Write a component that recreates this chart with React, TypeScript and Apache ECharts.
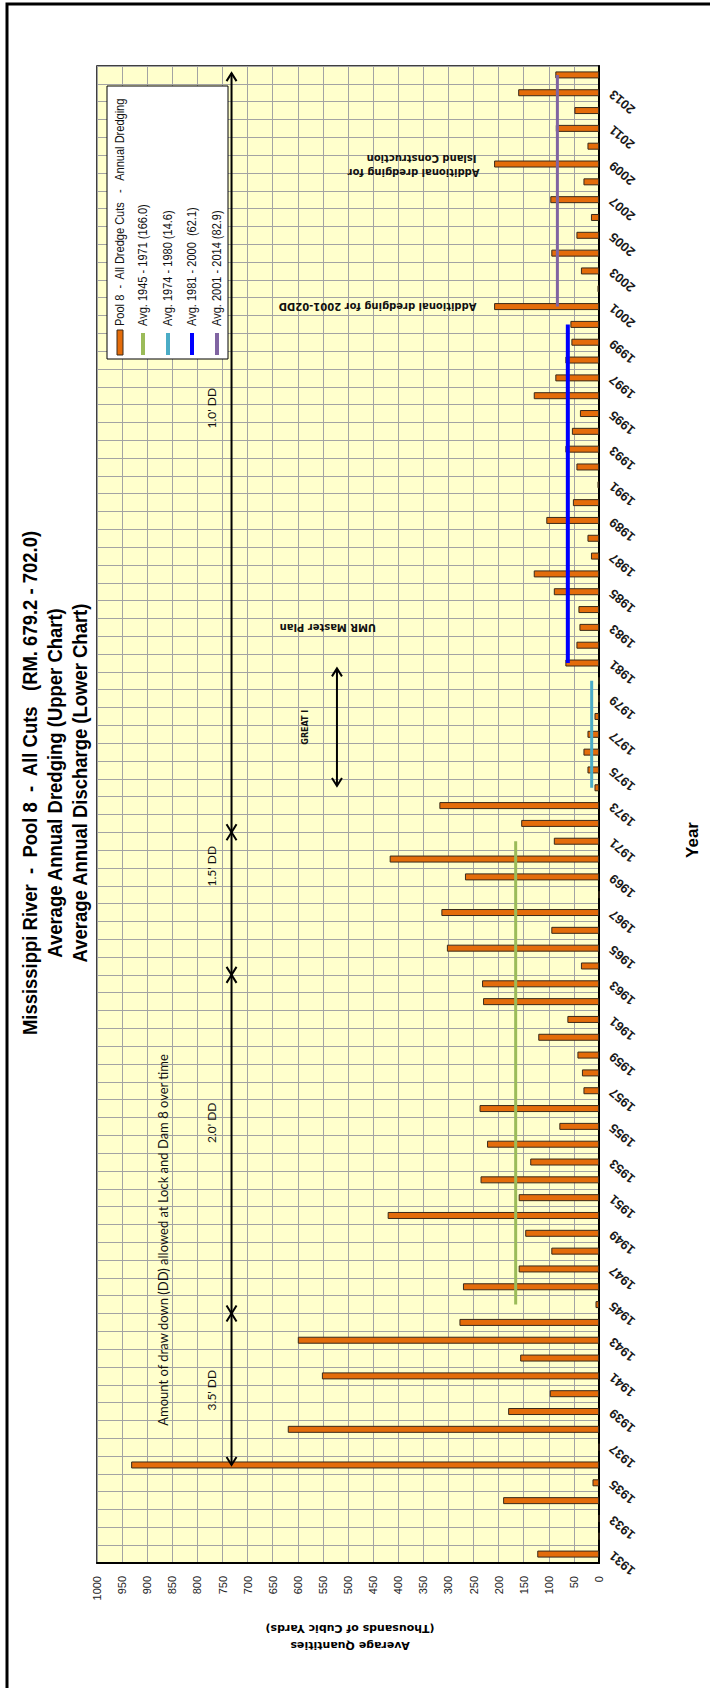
import React, { useEffect, useRef } from 'react';
import * as echarts from 'echarts';

// ---------- DATA ----------
const YEARS = [
  '1931', '1932', '1933', '1934', '1935', '1936', '1937', '1938', '1939', '1940',
  '1941', '1942', '1943', '1944', '1945', '1946', '1947', '1948', '1949', '1950',
  '1951', '1952', '1953', '1954', '1955', '1956', '1957', '1958', '1959', '1960',
  '1961', '1962', '1963', '1964', '1965', '1966', '1967', '1968', '1969', '1970',
  '1971', '1972', '1973', '1974', '1975', '1976', '1977', '1978', '1979', '1980',
  '1981', '1982', '1983', '1984', '1985', '1986', '1987', '1988', '1989', '1990',
  '1991', '1992', '1993', '1994', '1995', '1996', '1997', '1998', '1999', '2000',
  '2001', '2002', '2003', '2004', '2005', '2006', '2007', '2008', '2009', '2010',
  '2011', '2012', '2013', '2014',
];

// Annual dredging, thousands of cubic yards
const DREDGING = [
  123, 0, 0, 191, 13, 932, 0, 620, 181, 98,
  552, 157, 600, 278, 7, 271, 160, 95, 147, 421,
  160, 236, 137, 223, 79, 238, 31, 34, 43, 121,
  63, 231, 233, 36, 303, 95, 314, 0, 267, 417,
  90, 155, 318, 9, 23, 31, 23, 9, 0, 0,
  67, 45, 39, 41, 90, 130, 16, 23, 105, 52,
  3, 45, 67, 54, 38, 130, 87, 67, 55, 57,
  209, 3, 36, 95, 45, 16, 97, 31, 209, 23,
  86, 49, 161, 87,
];

const VALUE_MIN = 0;
const VALUE_MAX = 1000;
const VALUE_STEP = 50;

const AVG_FROM = [1945, 1974, 1981, 2001];
const AVG_TO = [1971, 1980, 2000, 2014];
const AVG_VALUE = [166.0, 14.6, 62.1, 82.9];
const AVG_LABELS = [
  'Avg. 1945 - 1971 (166.0)',
  'Avg. 1974 - 1980 (14.6)',
  'Avg. 1981 - 2000  (62.1)',
  'Avg. 2001 - 2014 (82.9)',
];
const AVG_COLORS = ['#9BBB59', '#4BACC6', '#0000FF', '#8064A2'];

const BAR_LABEL = 'Pool 8  -  All Dredge Cuts   -   Annual Dredging';

const TITLE_LINES = [
  'Mississippi River  -  Pool 8  -  All Cuts   (RM. 679.2 - 702.0)',
  'Average Annual Dredging (Upper Chart)',
  'Average Annual Discharge (Lower Chart)',
];

// draw-down periods (year boundaries) and their labels
const DD_BOUNDS = [1936, 1944.5, 1963.5, 1971.5, 2014.1];
const DD_LABELS = ["3.5' DD", "2.0' DD", "1.5' DD", "1.0' DD"];
const DD_LABEL_YEARS = [1940.2, 1955.2, 1969.6, 1995.3];

const ARIAL = '"Liberation Sans", Arial, sans-serif';
const VERD = '"DejaVu Sans", Verdana, sans-serif';

export default function App() {
  const ref = useRef<HTMLDivElement>(null);

  useEffect(() => {
    const el = ref.current!;
    const chart = echarts.init(el, null, { renderer: 'svg' });

    const avgSeries = AVG_VALUE.map((v, i) => ({
      type: 'line',
      name: AVG_LABELS[i],
      xAxisIndex: 0,
      yAxisIndex: 0,
      data: YEARS.filter((y) => +y >= AVG_FROM[i] && +y <= AVG_TO[i]).map((y) => [v, y]),
      symbol: 'none',
      silent: true,
      z: 4,
      lineStyle: { color: AVG_COLORS[i], width: i === 2 ? 4 : 3 },
    }));

    // static pixel graphics: frame, title, legend
    const staticG: any[] = [];
    staticG.push({
      type: 'rect',
      shape: { x: 7, y: 4, width: 760, height: 1760 },
      style: { fill: 'none', stroke: '#000', lineWidth: 3 },
      silent: true,
    });
    const titleX = [30, 55, 80];
    TITLE_LINES.forEach((t, i) => {
      staticG.push({
        type: 'text',
        x: titleX[i],
        y: 783,
        rotation: Math.PI / 2,
        scaleX: 0.88,
        style: {
          text: t,
          fontSize: 21,
          fontWeight: 'bold',
          fontFamily: ARIAL,
          fill: '#000',
          align: 'center',
          verticalAlign: 'middle',
        },
      });
    });
    // legend box
    staticG.push({
      type: 'rect',
      shape: { x: 107, y: 86, width: 121, height: 273 },
      style: { fill: '#fff', stroke: '#000', lineWidth: 1 },
      z: 50,
    });
    const legX = [120, 143, 168, 192, 217];
    staticG.push({
      type: 'rect',
      shape: { x: legX[0] - 3, y: 330, width: 6, height: 25 },
      style: { fill: '#E46C0A', stroke: '#3a2a1a', lineWidth: 1 },
      z: 51,
    });
    AVG_COLORS.forEach((c, i) => {
      staticG.push({
        type: 'line',
        shape: { x1: legX[i + 1], y1: 333, x2: legX[i + 1], y2: 355 },
        style: { stroke: c, lineWidth: 4 },
        z: 51,
      });
    });
    [BAR_LABEL, ...AVG_LABELS].forEach((t, i) => {
      staticG.push({
        type: 'text',
        x: legX[i],
        y: 326,
        rotation: Math.PI / 2,
        scaleX: 0.92,
        z: 51,
        style: {
          text: t,
          fontSize: 12,
          fontFamily: ARIAL,
          fill: '#111',
          align: 'left',
          verticalAlign: 'middle',
        },
      });
    });
    // "Year" axis title
    staticG.push({
      type: 'text',
      x: 692,
      y: 840,
      rotation: Math.PI / 2,
      style: {
        text: 'Year',
        fontSize: 17,
        fontWeight: 'bold',
        fontFamily: ARIAL,
        fill: '#000',
        align: 'center',
        verticalAlign: 'middle',
      },
    });
    // value axis title (upside down)
    staticG.push({
      type: 'text',
      x: 350,
      y: 1645,
      rotation: Math.PI,
      style: {
        text: 'Average Quantities',
        fontSize: 11,
        fontWeight: 'bold',
        fontFamily: VERD,
        fill: '#000',
        align: 'center',
        verticalAlign: 'middle',
      },
    });
    staticG.push({
      type: 'text',
      x: 350,
      y: 1628,
      rotation: Math.PI,
      style: {
        text: '(Thousands of Cubic Yards)',
        fontSize: 11,
        fontWeight: 'bold',
        fontFamily: VERD,
        fill: '#000',
        align: 'center',
        verticalAlign: 'middle',
      },
    });

    chart.setOption({
      animation: false,
      backgroundColor: '#fff',
      grid: {
        left: 97,
        right: 111,
        top: 66,
        bottom: 125,
        show: true,
        backgroundColor: '#FFFFCC',
        borderColor: '#000',
        borderWidth: 1.5,
      },
      xAxis: {
        type: 'value',
        inverse: true,
        min: VALUE_MIN,
        max: VALUE_MAX,
        interval: VALUE_STEP,
        position: 'bottom',
        axisLine: { show: true, onZero: false, lineStyle: { color: '#000', width: 2 } },
        axisTick: { show: false },
        axisLabel: {
          rotate: 90,
          fontSize: 11,
          fontFamily: ARIAL,
          color: '#222',
          margin: 13,
          formatter: (v: number) => String(v),
        },
        splitLine: { show: true, lineStyle: { color: '#a3a3a3', width: 1 } },
      },
      yAxis: [
        {
          type: 'category',
          data: YEARS,
          position: 'right',
          axisLine: { show: true, onZero: false, lineStyle: { color: '#000', width: 2 } },
          axisTick: { show: false },
          axisLabel: {
            interval: 1,
            rotate: 140,
            margin: 12,
            fontSize: 13,
            fontWeight: 'bold',
            fontFamily: ARIAL,
            color: '#1a1a1a',
          },
          splitLine: { show: true, interval: 0, lineStyle: { color: '#a3a3a3', width: 1 } },
        },
        { type: 'value', min: 1930.5, max: 2014.5, show: false, position: 'left' },
      ],
      series: [
        {
          type: 'bar',
          name: BAR_LABEL,
          xAxisIndex: 0,
          yAxisIndex: 0,
          data: DREDGING,
          barWidth: 7,
          silent: true,
          itemStyle: { color: '#E46C0A', borderColor: '#3a2a1a', borderWidth: 1 },
        },
        ...avgSeries,
      ],
      graphic: staticG,
    });

    // annotations positioned through the axes
    const P = (v: number, yr: number) =>
      chart.convertToPixel({ xAxisIndex: 0, yAxisIndex: 1 } as any, [v, yr]) as number[];
    const g: any[] = [];
    const arrowHead = (x: number, y: number, dir: number) => ({
      type: 'polyline',
      shape: { points: [[x - 5, y + dir * 8], [x, y], [x + 5, y + dir * 8]] },
      style: { stroke: '#000', lineWidth: 2, fill: 'none' },
      z: 20,
    });
    const ddX = 732;
    for (let i = 0; i < DD_LABELS.length; i++) {
      const a = P(ddX, DD_BOUNDS[i]);
      const b = P(ddX, DD_BOUNDS[i + 1]);
      g.push({
        type: 'line',
        shape: { x1: a[0], y1: a[1], x2: b[0], y2: b[1] },
        style: { stroke: '#000', lineWidth: 2 },
        z: 20,
      });
      g.push(arrowHead(a[0], a[1], -1));
      g.push(arrowHead(b[0], b[1], 1));
      const l = P(772, DD_LABEL_YEARS[i]);
      g.push({
        type: 'text',
        x: l[0],
        y: l[1],
        rotation: Math.PI / 2,
        z: 20,
        style: {
          text: DD_LABELS[i],
          fontSize: 12,
          fontFamily: 'Lato, sans-serif',
          fill: '#111',
          align: 'center',
          verticalAlign: 'middle',
        },
      });
    }
    const am = P(868, 1938.2);
    g.push({
      type: 'text',
      x: am[0],
      y: am[1],
      rotation: Math.PI / 2,
      z: 20,
      style: {
        text: 'Amount of draw down (DD) allowed at Lock and Dam 8 over time',
        fontSize: 13,
        fontFamily: 'Lato, sans-serif',
        fill: '#111',
        align: 'left',
        verticalAlign: 'middle',
      },
    });
    // GREAT I
    const ga = P(522, 1974.1);
    const gb = P(522, 1980.7);
    g.push({
      type: 'line',
      shape: { x1: ga[0], y1: ga[1], x2: gb[0], y2: gb[1] },
      style: { stroke: '#000', lineWidth: 2 },
      z: 20,
    });
    g.push(arrowHead(ga[0], ga[1], -1));
    g.push(arrowHead(gb[0], gb[1], 1));
    const gl = P(584, 1977.4);
    g.push({
      type: 'text',
      x: gl[0],
      y: gl[1],
      rotation: Math.PI / 2,
      z: 20,
      style: {
        text: 'GREAT I',
        fontSize: 8,
        fontWeight: 'bold',
        fontFamily: VERD,
        fill: '#111',
        align: 'center',
        verticalAlign: 'middle',
      },
    });
    // upside-down notes
    const notes: [string, number, number][] = [
      ['UMR Master Plan', 444, 1983],
      ['Additional dredging for 2001-02DD', 244, 2001],
      ['Additional dredging for', 238, 2008.5],
      ['Island Construction', 244, 2009.3],
    ];
    notes.forEach(([t, v, yr]) => {
      const p = P(v, yr);
      g.push({
        type: 'text',
        x: p[0],
        y: p[1],
        rotation: Math.PI,
        z: 20,
        style: {
          text: t,
          fontSize: 10,
          fontWeight: 'bold',
          fontFamily: VERD,
          fill: '#111',
          align: 'left',
          verticalAlign: 'middle',
        },
      });
    });

    chart.setOption({ graphic: [...staticG, ...g] });

    return () => chart.dispose();
  }, []);

  return (
    <div
      ref={ref}
      style={{ position: 'absolute', left: 0, top: 0, width: 710, height: 1688, background: '#fff' }}
    />
  );
}
